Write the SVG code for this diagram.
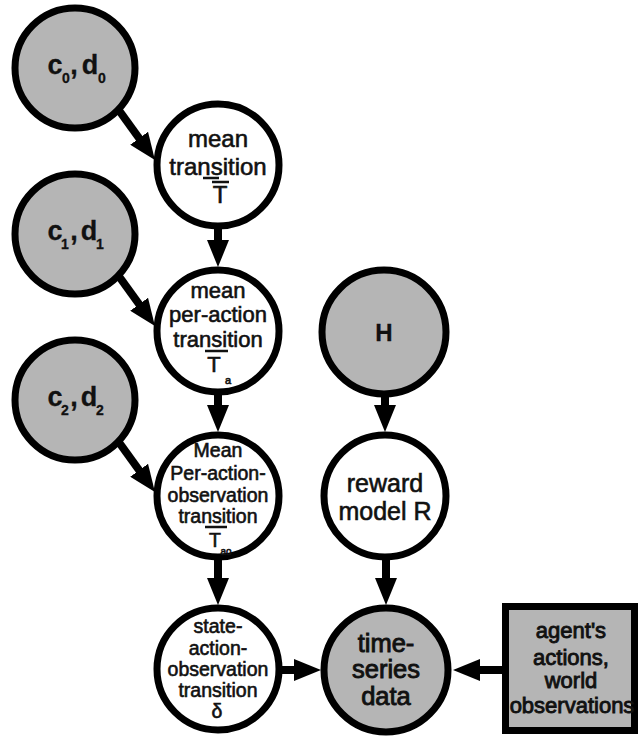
<svg xmlns="http://www.w3.org/2000/svg" width="638" height="740" viewBox="0 0 638 740">
<style>
.obs{fill:#b5b5b5;stroke:#000;stroke-width:7}
.hid{fill:#fff;stroke:#000;stroke-width:7}
text{font-family:"Liberation Sans",Arial,sans-serif;fill:#111;stroke:#111;stroke-width:0.6;text-anchor:middle}
.b{font-weight:bold;stroke-width:0.3}
.h{stroke-width:0.9}
.bar{stroke:#111;stroke-width:2.5}
.edge{stroke:#000;stroke-width:8;fill:none;marker-end:url(#ah)}
</style>
<defs>
<marker id="ah" markerUnits="userSpaceOnUse" markerWidth="28" markerHeight="22" refX="1" refY="11" orient="auto">
<path d="M0,0 L27,11 L0,22 z" fill="#000"/>
</marker>
</defs>
<rect width="638" height="740" fill="#fff"/>
<g id="connectors">
<line class="edge" x1="118" y1="109" x2="139.7" y2="139"/>
<line class="edge" x1="118" y1="275" x2="139.7" y2="305"/>
<line class="edge" x1="118" y1="441" x2="139.7" y2="471"/>
<line class="edge" x1="218" y1="226" x2="218" y2="241"/>
<line class="edge" x1="218" y1="391" x2="218" y2="406"/>
<line class="edge" x1="218" y1="556" x2="218" y2="579"/>
<line class="edge" x1="385" y1="393" x2="385" y2="406"/>
<line class="edge" x1="386" y1="556" x2="386" y2="579"/>
<line class="edge" x1="279" y1="670" x2="295" y2="670"/>
<line class="edge" x1="506" y1="670" x2="479" y2="670"/>
</g>
<g id="c0d0">
<circle class="obs" cx="75" cy="68" r="60"/>
<text class="b" x="55" y="74" font-size="27">c</text>
<text class="b" x="66" y="83" font-size="14">0</text>
<text class="b" x="74" y="74" font-size="27">,</text>
<text class="b" x="90" y="74" font-size="27">d</text>
<text class="b" x="102" y="83" font-size="14">0</text>
</g>
<g id="c1d1">
<circle class="obs" cx="75" cy="234" r="60"/>
<text class="b" x="55" y="240" font-size="27">c</text>
<text class="b" x="65" y="249" font-size="14">1</text>
<text class="b" x="74" y="240" font-size="27">,</text>
<text class="b" x="89" y="240" font-size="27">d</text>
<text class="b" x="100" y="249" font-size="14">1</text>
</g>
<g id="c2d2">
<circle class="obs" cx="75" cy="400" r="60"/>
<text class="b" x="55" y="406" font-size="27">c</text>
<text class="b" x="65" y="415" font-size="14">2</text>
<text class="b" x="74" y="406" font-size="27">,</text>
<text class="b" x="89" y="406" font-size="27">d</text>
<text class="b" x="100" y="415" font-size="14">2</text>
</g>
<g id="meanTransition">
<circle class="hid" cx="218" cy="165" r="61"/>
<text x="218" y="147" font-size="24">mean</text>
<text x="218" y="175" font-size="24">transition</text>
<text x="220" y="203" font-size="24">T</text>
<line class="bar" x1="203" y1="178" x2="219" y2="178"/>
<line class="bar" x1="212" y1="182" x2="229" y2="182"/>
</g>
<g id="perActionTransition">
<circle class="hid" cx="218" cy="331" r="61"/>
<text x="218" y="298" font-size="22">mean</text>
<text x="218" y="322" font-size="22">per-action</text>
<text x="218" y="347" font-size="22">transition</text>
<text x="214" y="372" font-size="22">T</text>
<text x="228" y="384" font-size="11">a</text>
<line class="bar" x1="205" y1="351" x2="228" y2="351"/>
</g>
<g id="perActionObservationTransition">
<circle class="hid" cx="218" cy="496" r="61"/>
<text x="218" y="457" font-size="19.5">Mean</text>
<text x="218" y="480" font-size="19.5">Per-action-</text>
<text x="218" y="502" font-size="19.5">observation</text>
<text x="218" y="523" font-size="19.5">transition</text>
<text x="215" y="547" font-size="19.5">T</text>
<text x="226" y="555" font-size="10">ao</text>
<line class="bar" x1="205" y1="527" x2="227" y2="527"/>
</g>
<g id="stateActionObservationTransition">
<circle class="hid" cx="218" cy="669" r="61"/>
<text x="218" y="633" font-size="19.5">state-</text>
<text x="218" y="655" font-size="19.5">action-</text>
<text x="218" y="676" font-size="19.5">observation</text>
<text x="218" y="697" font-size="19.5">transition</text>
<text x="217" y="718" font-size="19.5">δ</text>
</g>
<g id="H">
<circle class="obs" cx="384" cy="332" r="62"/>
<text class="b" x="384" y="341" font-size="24">H</text>
</g>
<g id="rewardModel">
<circle class="hid" cx="385" cy="496" r="61"/>
<text x="385" y="492" font-size="25">reward</text>
<text x="385" y="520" font-size="25">model R</text>
</g>
<g id="timeSeries">
<circle class="obs" cx="386" cy="670" r="62"/>
<text class="h" x="386" y="652" font-size="25.5">time-</text>
<text class="h" x="386" y="678" font-size="25.5">series</text>
<text class="h" x="386" y="705" font-size="25.5">data</text>
</g>
<g id="agentActions">
<rect class="obs" x="505.5" y="606.5" width="129" height="124"/>
<text class="h" x="571" y="638" font-size="22">agent's</text>
<text class="h" x="571" y="665" font-size="22">actions,</text>
<text class="h" x="571" y="688" font-size="22">world</text>
<text class="h" x="572" y="713" font-size="22">observations</text>
</g>
</svg>
